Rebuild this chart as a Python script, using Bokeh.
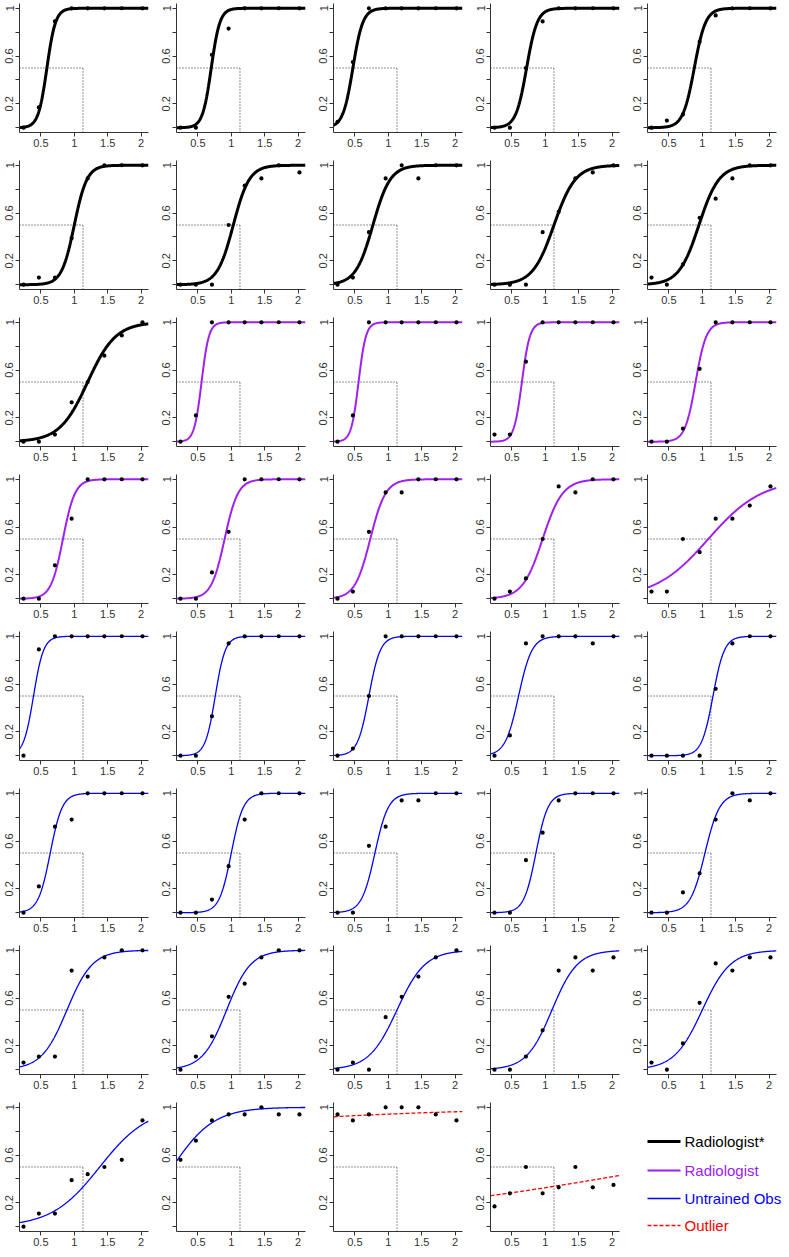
import numpy as np
from bokeh.plotting import figure
from bokeh.layouts import column, row
from bokeh.models import Range1d, FixedTicker, CustomJSTickFormatter
from bokeh.core.properties import value
from bokeh.embed import file_html
from bokeh.resources import INLINE

# stimulus levels (x) shared by all panels
levels = [0.24, 0.47, 0.71, 0.96, 1.20, 1.45, 1.71, 2.02]

# observed proportions, one list per observer
radiologist_star = [
    [0, 0.17, 0.89, 1, 1, 1, 1, 1],
    [0, 0, 0.61, 0.83, 1, 1, 1, 1],
    [0.05, 0.55, 1, 1, 1, 1, 1, 1],
    [0, 0, 0.5, 0.89, 1, 1, 1, 1],
    [0, 0.06, 0.11, 0.72, 0.94, 1, 1, 1],
    [0, 0.06, 0.06, 0.39, 0.89, 1, 1, 1],
    [0, 0, 0, 0.5, 0.83, 0.89, 1, 0.94],
    [0, 0.06, 0.44, 0.89, 1, 0.89, 1, 1],
    [0, 0, 0, 0.44, 0.61, 0.89, 0.94, 1],
    [0.06, 0, 0.17, 0.56, 0.72, 0.89, 1, 1],
    [0, 0, 0.06, 0.33, 0.5, 0.72, 0.89, 1],
]
radiologist = [
    [0, 0.22, 1, 1, 1, 1, 1, 1],
    [0, 0.22, 1, 1, 1, 1, 1, 1],
    [0.06, 0.06, 0.67, 1, 1, 1, 1, 1],
    [0, 0, 0.11, 0.61, 1, 1, 1, 1],
    [0, 0, 0.28, 0.67, 1, 1, 1, 1],
    [0, 0, 0.22, 0.56, 1, 1, 1, 1],
    [0, 0.06, 0.56, 0.89, 0.89, 1, 1, 1],
    [0, 0.06, 0.17, 0.5, 0.94, 0.89, 1, 1],
    [0.06, 0.06, 0.5, 0.39, 0.67, 0.67, 0.78, 0.94],
]
untrained = [
    [0, 0.89, 1, 1, 1, 1, 1, 1],
    [0, 0, 0.33, 0.94, 1, 1, 1, 1],
    [0, 0.06, 0.5, 1, 1, 1, 1, 1],
    [0, 0.17, 0.94, 1, 1, 1, 0.94, 1],
    [0, 0, 0, 0, 0.56, 0.94, 1, 1],
    [0, 0.22, 0.72, 0.78, 1, 1, 1, 1],
    [0, 0, 0.11, 0.39, 0.78, 1, 1, 1],
    [0, 0, 0.56, 0.72, 0.94, 0.94, 1, 1],
    [0, 0, 0.44, 0.67, 0.94, 1, 1, 1],
    [0, 0, 0.17, 0.33, 0.78, 1, 0.94, 1],
    [0.06, 0.11, 0.11, 0.83, 0.78, 0.94, 1, 1],
    [0, 0.11, 0.28, 0.61, 0.72, 0.94, 1, 1],
    [0, 0.06, 0, 0.44, 0.61, 0.78, 0.94, 1],
    [0, 0, 0.11, 0.33, 0.83, 0.94, 0.83, 0.94],
    [0.06, 0, 0.22, 0.56, 0.89, 0.83, 0.94, 0.94],
    [0, 0.11, 0.11, 0.39, 0.44, 0.5, 0.56, 0.89],
    [0.56, 0.72, 0.89, 0.94, 0.94, 1, 0.94, 0.94],
]
outlier = [
    [0.94, 0.89, 0.94, 1, 1, 1, 0.94, 0.89],
    [0.17, 0.28, 0.5, 0.28, 0.33, 0.5, 0.33, 0.35],
]

# fitted logistic parameters (midpoint, scale) per observer
radiologist_star_mid = [0.59, 0.70, 0.47, 0.72, 0.88, 1.0, 1.03, 0.77, 1.13, 0.95, 1.2]
radiologist_star_scale = [0.065, 0.065, 0.075, 0.08, 0.085, 0.095, 0.12, 0.13, 0.16, 0.15, 0.21]
radiologist_mid = [0.555, 0.555, 0.65, 0.9, 0.83, 0.9, 0.73, 0.96, 1.09]
radiologist_scale = [0.055, 0.055, 0.06, 0.08, 0.09, 0.1, 0.115, 0.15, 0.4]
untrained_mid = [0.39, 0.76, 0.71, 0.6, 1.16, 0.64, 1.0, 0.8, 0.86, 1.04,
                 0.89, 0.93, 1.13, 1.1, 1.0, 1.38, 0.12]
untrained_scale = [0.075, 0.075, 0.085, 0.1, 0.085, 0.09, 0.09, 0.1, 0.09, 0.11,
                   0.19, 0.18, 0.21, 0.19, 0.21, 0.36, 0.31]
outlier_mid = [-5.39, 2.83]
outlier_scale = [2.28, 2.53]

threshold_x = 1.13
threshold_y = 0.5

x_ticks = [0.5, 1, 1.5, 2]
x_tick_labels = ["0.5", "1", "1.5", "2"]
y_ticks = [0, 0.2, 0.4, 0.6, 0.8, 1]
y_tick_labels = ["", "0.2", "", "0.6", "", "1"]

group_names = ["Radiologist*", "Radiologist", "Untrained Obs", "Outlier"]
group_colors = ["#000000", "#A020F0", "#0000FF", "#FF0000"]
group_widths = [3, 2, 1.3, 1.3]
group_dashes = ["solid", "solid", "solid", "4 2"]

W, H = 157, 157
BL, BR, BT, BB = 19, 9, 3, 25
XR = (0.18, 2.11)
YR = (-0.04, 1.04)
FONT = "Liberation Sans"

fmt_code = """
const i = tk.findIndex(t => Math.abs(t - tick) < 1e-9);
return i >= 0 ? lb[i] : "";
"""


def panel(ys, mid, scale, g):
    p = figure(width=W, height=H, x_range=Range1d(*XR), y_range=Range1d(*YR),
               toolbar_location=None, output_backend="svg",
               min_border_left=BL, min_border_right=BR, min_border_top=BT,
               min_border_bottom=BB)
    p.grid.visible = False
    p.outline_line_color = None
    p.background_fill_color = "white"
    for ax in (p.xaxis, p.yaxis):
        ax.axis_line_color = "#333333"
        ax.major_tick_line_color = "#333333"
        ax.minor_tick_line_color = None
        ax.major_tick_out = 4
        ax.major_tick_in = 0
        ax.major_label_text_font = FONT
        ax.major_label_text_font_size = "11px"
        ax.major_label_text_color = "#333333"
        ax.major_label_standoff = 2
    p.xaxis.ticker = FixedTicker(ticks=x_ticks)
    p.xaxis.formatter = CustomJSTickFormatter(args=dict(tk=x_ticks, lb=x_tick_labels), code=fmt_code)
    p.yaxis.ticker = FixedTicker(ticks=y_ticks)
    p.yaxis.formatter = CustomJSTickFormatter(args=dict(tk=y_ticks, lb=y_tick_labels), code=fmt_code)
    p.yaxis.major_label_orientation = "vertical"

    # reference dotted lines
    p.segment(x0=[XR[0], threshold_x], y0=[threshold_y, YR[0]],
              x1=[threshold_x, threshold_x], y1=[threshold_y, threshold_y],
              line_color="#222222", line_width=1, line_dash="1 2")

    xs = np.linspace(XR[0], XR[1], 300)
    curve = 1.0 / (1.0 + np.exp(-(xs - mid) / scale))
    p.line(xs, curve, line_color=group_colors[g], line_width=group_widths[g],
           line_dash=group_dashes[g])
    p.scatter(levels, ys, size=4.2, color="black", line_width=0)
    return p


figs = []
groups = [(radiologist_star, radiologist_star_mid, radiologist_star_scale),
          (radiologist, radiologist_mid, radiologist_scale),
          (untrained, untrained_mid, untrained_scale),
          (outlier, outlier_mid, outlier_scale)]
for g, (data, mids, scales) in enumerate(groups):
    for ys, m, s in zip(data, mids, scales):
        figs.append(panel(ys, m, s, g))

# legend panel: coordinates are figure pixels from top-left
# (frame spans full width; vertically it is aligned with the row's frames)
lp = figure(width=W, height=H, x_range=Range1d(0, W), y_range=Range1d(H - BB, BT),
            toolbar_location=None, output_backend="svg",
            x_axis_location=None, y_axis_location=None,
            min_border_left=0, min_border_right=0, min_border_top=BT, min_border_bottom=BB)
lp.grid.visible = False
lp.outline_line_color = None
row_centers = [42, 71, 99, 126]
for g in range(4):
    lp.line([19, 52], [row_centers[g], row_centers[g]], line_color=group_colors[g],
            line_width=group_widths[g], line_dash=group_dashes[g])
    lp.text([56], [row_centers[g]], text=[group_names[g]], text_color=group_colors[g],
            text_font=value(FONT), text_font_size="15px", text_baseline="middle",
            text_align="left")
figs.append(lp)

layout = column([row(figs[i:i + 5], spacing=0) for i in range(0, 40, 5)], spacing=0)

open("out.html", "w").write(file_html(layout, INLINE))
